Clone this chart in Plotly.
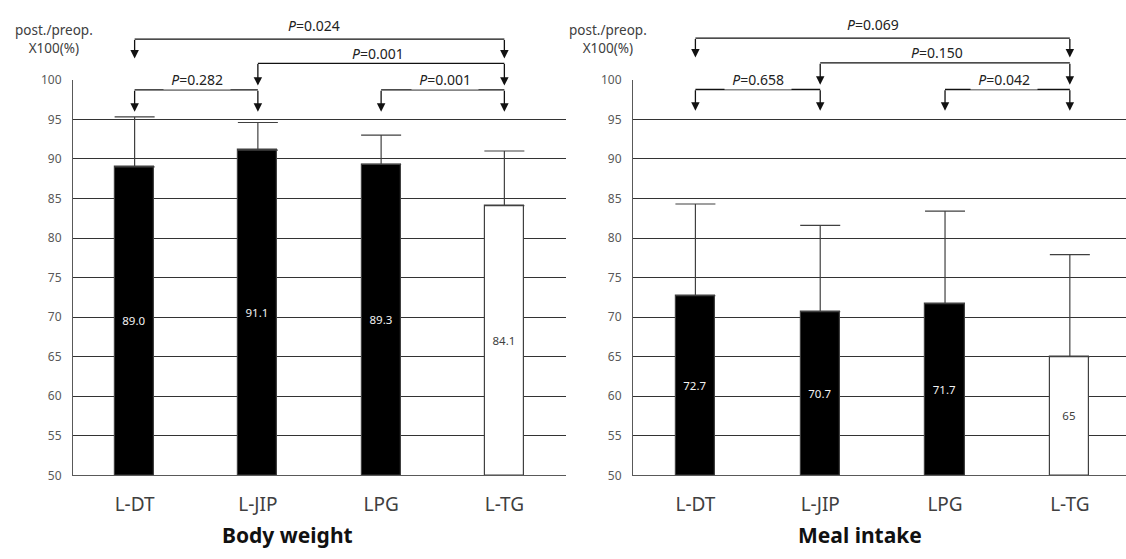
import plotly.graph_objects as go

# ---------------- data ----------------
categories = ["L-DT", "L-JIP", "LPG", "L-TG"]
bw_values = [89.0, 91.1, 89.3, 84.1]
bw_errors = [6.3, 3.5, 3.7, 6.9]
mi_values = [72.7, 70.7, 71.7, 65]
mi_errors = [11.6, 10.9, 11.7, 12.9]
bar_colors = ["black", "black", "black", "white"]
text_colors = ["#f2f2f2", "#f2f2f2", "#f2f2f2", "#404040"]

y_ticks = [50, 55, 60, 65, 70, 75, 80, 85, 90, 95, 100]
BASE = 50

# comparisons: (from, to, label)
bw_pvals = [("L-DT", "L-TG", "0.024"), ("L-JIP", "L-TG", "0.001"),
            ("L-DT", "L-JIP", "0.282"), ("LPG", "L-TG", "0.001")]
mi_pvals = [("L-DT", "L-TG", "0.069"), ("L-JIP", "L-TG", "0.150"),
            ("L-DT", "L-JIP", "0.658"), ("LPG", "L-TG", "0.042")]

panel_titles = ["Body weight", "Meal intake"]
y_title = "post./preop.<br>X100(%)"

# ---------------- layout helpers ----------------
W, H = 1126, 559
FONT = "Noto Sans"


def px(x):
    return x / W


def py(y):
    return 1 - y / H


fig = go.Figure()

for k, (vals, errs, labels, xa, ya) in enumerate([
    (bw_values, bw_errors, [f"{v:.1f}" for v in bw_values], "x", "y"),
    (mi_values, mi_errors, ["%g" % v for v in mi_values], "x2", "y2"),
]):
    fig.add_trace(go.Bar(
        x=categories,
        y=[v - BASE for v in vals],
        base=BASE,
        width=0.315,
        marker=dict(color=bar_colors, line=dict(color="#404040", width=1.2)),
        text=labels,
        textposition="inside",
        insidetextanchor="middle",
        textangle=0,
        textfont=dict(family=FONT, size=11.5, color=text_colors),
        error_y=dict(type="data", array=errs, arrayminus=[0] * len(errs),
                     symmetric=False, color="#404040", thickness=1.2, width=20),
        xaxis=xa, yaxis=ya,
        showlegend=False,
        hoverinfo="skip",
    ))

ydom = [py(481), py(73)]
axis_common_y = dict(
    range=[50, 100], tickvals=y_ticks, showgrid=True, gridcolor="#333333",
    gridwidth=1.2, showline=True, linecolor="#595959", linewidth=1.2,
    ticks="", tickfont=dict(family=FONT, size=12, color="#595959"),
    zeroline=False, domain=ydom, fixedrange=True, ticklabelstandoff=8,
)
axis_common_x = dict(
    type="category", showgrid=False, showline=True, linecolor="#595959",
    linewidth=1.2, ticks="", tickfont=dict(family=FONT, size=19, color="#404040"),
    zeroline=False, fixedrange=True, ticklabelstandoff=12,
)

fig.update_layout(
    autosize=True,
    margin=dict(l=0, r=0, t=0, b=0),
    paper_bgcolor="white", plot_bgcolor="white",
    bargap=0.0,
    xaxis=dict(domain=[px(73), px(566)], range=[-0.5, 3.5], anchor="y", **axis_common_x),
    yaxis=dict(anchor="x", **axis_common_y),
    xaxis2=dict(domain=[px(633), 1.0], range=[-0.5, 3.45], anchor="y2", **axis_common_x),
    yaxis2=dict(anchor="x2", **axis_common_y),
)

# bracket geometry (pixel rows): line y, arrow tip y, text y
rows_left = [(31, 51, 17), (56, 79, 46), (83.5, 106, 73), (83.5, 106, 73)]
rows_right = [(30, 50, 16), (55.5, 78, 45), (83, 105, 73), (83, 105, 73)]
text_x_left = [314, 378, 197, 445]
text_x_right = [873, 937, 758, 1004]

annotations = []
shapes = []
for pvals, rows, txs, xa in [(bw_pvals, rows_left, text_x_left, "x"),
                             (mi_pvals, rows_right, text_x_right, "x2")]:
    for (a, b, lab), (ly, tip, ty), tx in zip(pvals, rows, txs):
        shapes.append(dict(type="line", xref=xa, yref="paper", x0=a, x1=b,
                           y0=py(ly), y1=py(ly),
                           line=dict(color="#111111", width=1.3)))
        for c in (a, b):
            annotations.append(dict(
                xref=xa, yref="paper", x=c, y=py(tip), ax=0, ay=-(tip - ly),
                text="", showarrow=True, arrowhead=2, arrowsize=1.3,
                arrowwidth=1.3, arrowcolor="#111111", standoff=0))
        on_grid = ty == 73
        annotations.append(dict(
            xref="paper", yref="paper", x=px(tx), y=py(ty),
            text=("\u00a0\u00a0<i>P</i>=" + lab + "\u00a0\u00a0") if on_grid else ("<i>P</i>=" + lab),
            showarrow=False, xanchor="center", yanchor="middle",
            bgcolor="white" if on_grid else None, borderpad=0,
            font=dict(family=FONT, size=14, color="#222222")))

# y-axis titles
for cx in (54, 608):
    annotations.append(dict(
        xref="paper", yref="paper", x=px(cx), y=py(31), text=y_title,
        showarrow=False, xanchor="center", yanchor="middle", align="center",
        font=dict(family=FONT, size=13.5, color="#404040")))

# panel titles
for cx, t in zip((287, 860), panel_titles):
    annotations.append(dict(
        xref="paper", yref="paper", x=px(cx), y=py(543), text="<b>" + t + "</b>",
        showarrow=False, xanchor="center", yanchor="middle",
        font=dict(family=FONT, size=21, color="#111111")))

fig.update_layout(annotations=annotations, shapes=shapes)

fig.write_html("out.html", default_width="100vw", default_height="100vh")
